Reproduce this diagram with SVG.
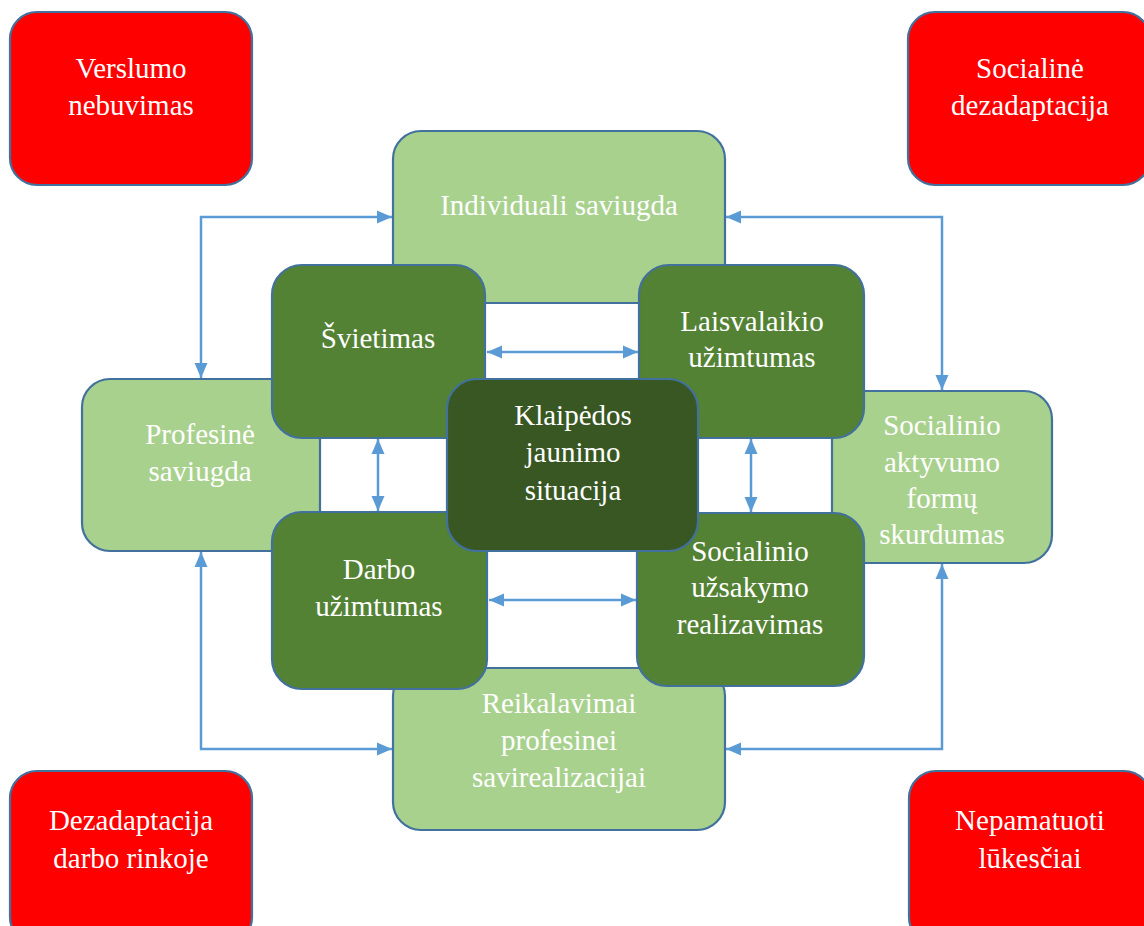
<svg xmlns="http://www.w3.org/2000/svg" width="1144" height="926" viewBox="0 0 1144 926">
<style>
.box{stroke:#41719C;stroke-width:2.2}
.red{fill:#FF0000}
.lg{fill:#A9D18E}
.mg{fill:#548235}
.dg{fill:#385723}
.t{font-family:'Liberation Serif','DejaVu Serif',serif;font-size:29px;fill:#FFFFFF;text-anchor:middle}
.conn{stroke:#5B9BD5;stroke-width:2.5;fill:none}
</style>
<defs>
<marker id="ah" markerUnits="userSpaceOnUse" markerWidth="16" markerHeight="14" refX="15" refY="7" orient="auto-start-reverse" viewBox="0 0 16 14">
<path d="M0,0.5 L15,7 L0,13.5 z" fill="#5B9BD5"/>
</marker>
</defs>
<rect width="1144" height="926" fill="#FFFFFF"/>

<g id="verslumo">
<rect class="box red" x="10" y="12" width="242" height="173" rx="27"/>
<text class="t" font-family="Liberation Serif, serif" x="131" y="78">Verslumo</text>
<text class="t" font-family="Liberation Serif, serif" x="131" y="115">nebuvimas</text>
</g>
<g id="socialine">
<rect class="box red" x="908" y="12" width="242" height="173" rx="27"/>
<text class="t" x="1030" y="78">Socialinė</text>
<text class="t" x="1030" y="115">dezadaptacija</text>
</g>
<g id="dezadaptacija">
<rect class="box red" x="10" y="771" width="242" height="173" rx="27"/>
<text class="t" x="131" y="830">Dezadaptacija</text>
<text class="t" x="131" y="868">darbo rinkoje</text>
</g>
<g id="nepamatuoti">
<rect class="box red" x="909" y="771" width="242" height="173" rx="27"/>
<text class="t" x="1030" y="830">Nepamatuoti</text>
<text class="t" x="1030" y="868">lūkesčiai</text>
</g>

<g id="individuali">
<rect class="box lg" x="393" y="131" width="332" height="172" rx="28"/>
<text class="t" x="559" y="215">Individuali saviugda</text>
</g>
<g id="profesine">
<rect class="box lg" x="82" y="379" width="238" height="172" rx="28"/>
<text class="t" x="200" y="444">Profesinė</text>
<text class="t" x="200" y="481">saviugda</text>
</g>
<g id="aktyvumo">
<rect class="box lg" x="832" y="391" width="220" height="172" rx="28"/>
<text class="t" x="942" y="435">Socialinio</text>
<text class="t" x="942" y="472">aktyvumo</text>
<text class="t" x="942" y="508">formų</text>
<text class="t" x="942" y="544">skurdumas</text>
</g>
<g id="reikalavimai">
<rect class="box lg" x="393" y="668" width="332" height="162" rx="28"/>
<text class="t" x="559" y="713">Reikalavimai</text>
<text class="t" x="559" y="750">profesinei</text>
<text class="t" x="559" y="787">savirealizacijai</text>
</g>

<g id="svietimas">
<rect class="box mg" x="272" y="265" width="213" height="173" rx="30"/>
<text class="t" x="378" y="348">Švietimas</text>
</g>
<g id="laisvalaikio">
<rect class="box mg" x="639" y="265" width="225" height="173" rx="30"/>
<text class="t" x="752" y="331">Laisvalaikio</text>
<text class="t" x="752" y="367">užimtumas</text>
</g>
<g id="darbo">
<rect class="box mg" x="272" y="512" width="215" height="177" rx="30"/>
<text class="t" x="379" y="579">Darbo</text>
<text class="t" x="379" y="616">užimtumas</text>
</g>
<g id="uzsakymo">
<rect class="box mg" x="637" y="513" width="227" height="173" rx="30"/>
<text class="t" x="750" y="561">Socialinio</text>
<text class="t" x="750" y="597">užsakymo</text>
<text class="t" x="750" y="634">realizavimas</text>
</g>

<g id="klaipedos">
<rect class="box dg" x="447" y="379" width="251" height="172" rx="30"/>
<text class="t" x="573" y="425">Klaipėdos</text>
<text class="t" x="573" y="462">jaunimo</text>
<text class="t" x="573" y="500">situacija</text>
</g>

<g id="connectors">
<polyline class="conn" points="392,217 201,217 201,378" marker-start="url(#ah)" marker-end="url(#ah)"/>
<polyline class="conn" points="726,217 942,217 942,390" marker-start="url(#ah)" marker-end="url(#ah)"/>
<polyline class="conn" points="201,552 201,749 392,749" marker-start="url(#ah)" marker-end="url(#ah)"/>
<polyline class="conn" points="942,564 942,749 726,749" marker-start="url(#ah)" marker-end="url(#ah)"/>
<line class="conn" x1="487" y1="352" x2="638" y2="352" marker-start="url(#ah)" marker-end="url(#ah)"/>
<line class="conn" x1="489" y1="600" x2="636" y2="600" marker-start="url(#ah)" marker-end="url(#ah)"/>
<line class="conn" x1="378" y1="439" x2="378" y2="511" marker-start="url(#ah)" marker-end="url(#ah)"/>
<line class="conn" x1="751" y1="439" x2="751" y2="512" marker-start="url(#ah)" marker-end="url(#ah)"/>
</g>
</svg>
